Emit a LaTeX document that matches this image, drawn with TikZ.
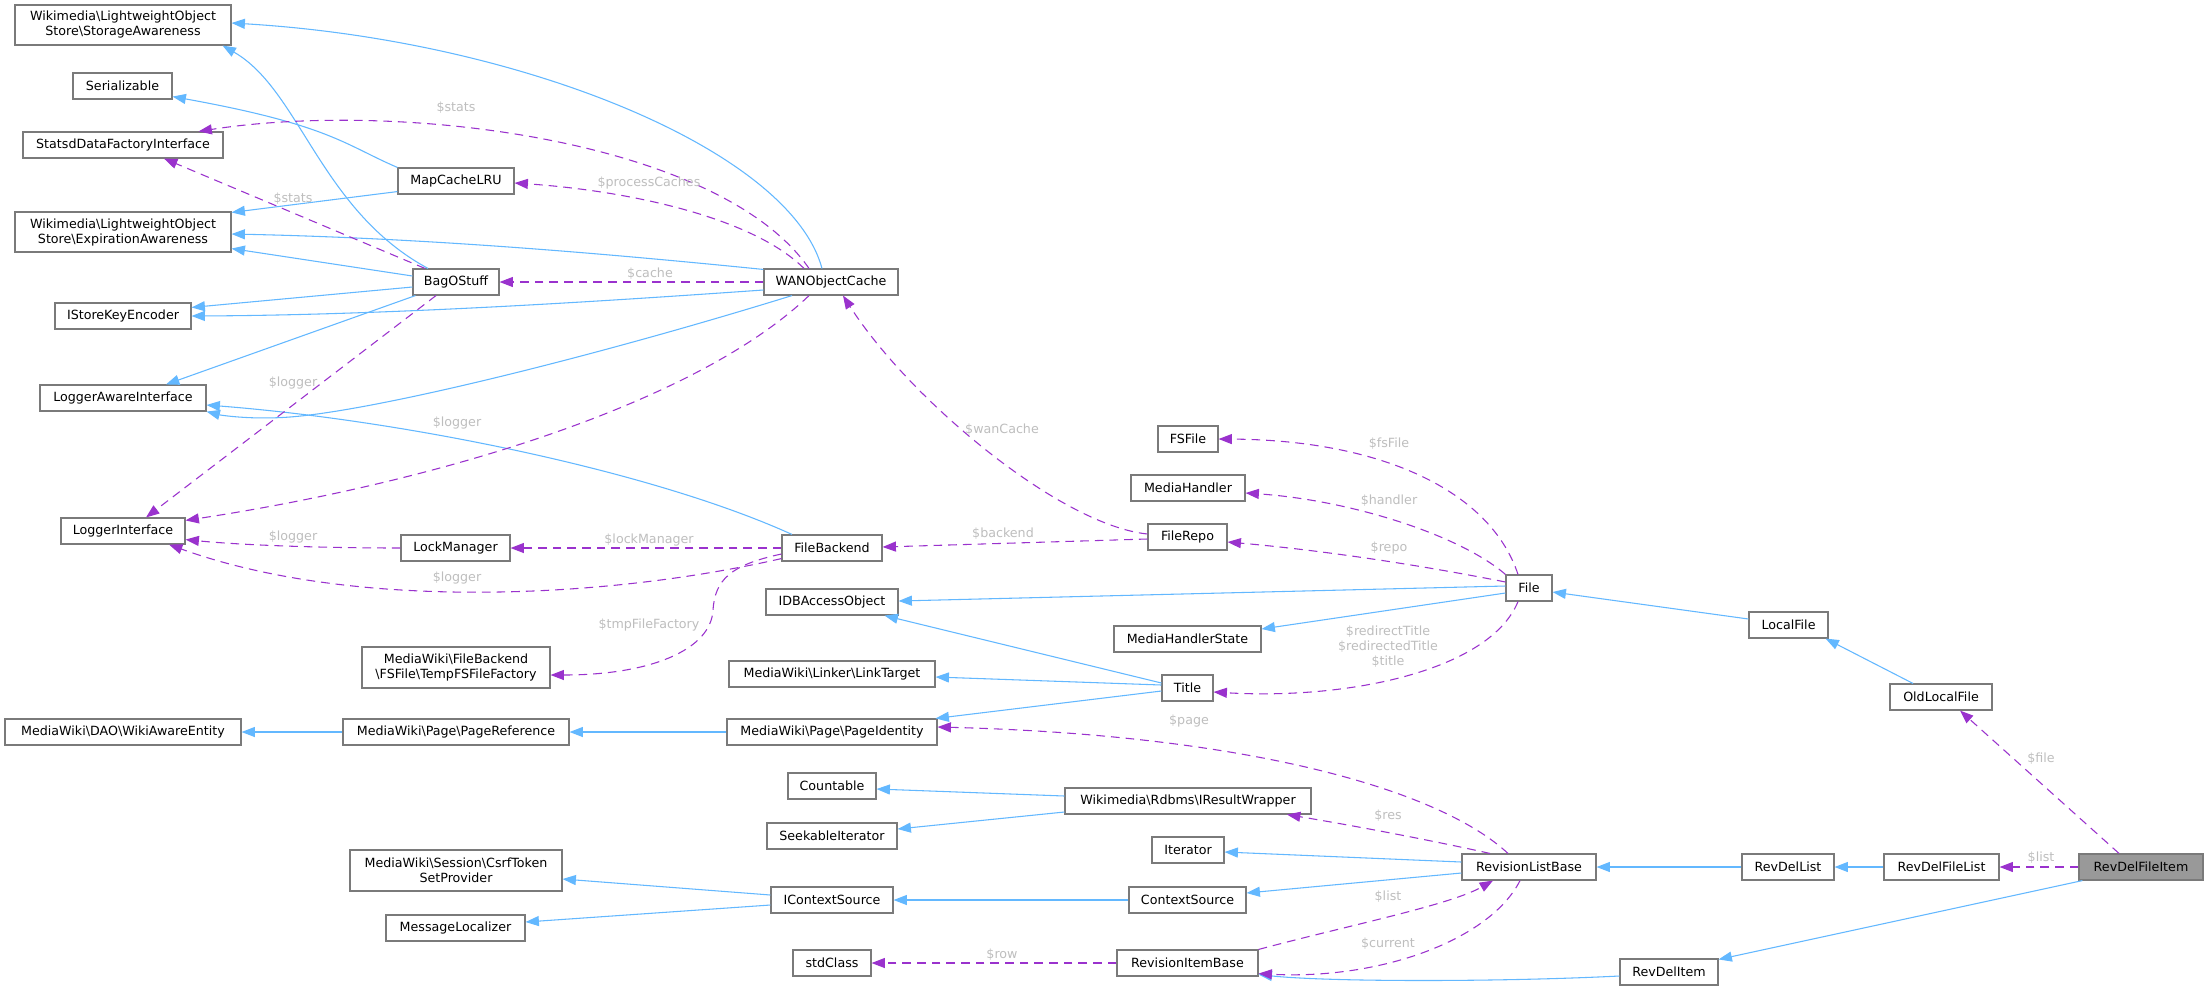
\documentclass[tikz,border=0pt]{standalone}
\usepackage{fontspec}
\setmainfont{DejaVu Sans}
\usetikzlibrary{arrows.meta,calc}
\definecolor{inhblue}{HTML}{63B8FF}
\definecolor{usepurple}{HTML}{9A32CD}
\definecolor{nodegray}{HTML}{7A7A7A}
\definecolor{lblgray}{HTML}{BEBEBE}
\definecolor{hifill}{HTML}{999999}
\tikzset{
  cbox/.style={draw=nodegray, line width=0.85pt, fill=white, inner sep=0pt, align=center,
    font=\fontsize{9.5}{11.25}\selectfont, text=black},
  hibox/.style={fill=hifill},
  inh/.style={draw=inhblue, line width=0.8pt, -{Triangle[length=10pt,width=7.5pt]}},
  use/.style={draw=usepurple, line width=0.8pt, dash pattern=on 6.5pt off 4.5pt,
    -{Triangle[length=10pt,width=7.5pt]}},
  lbl/.style={text=lblgray, inner sep=0pt, align=center,
    font=\fontsize{9.5}{11.25}\selectfont}
}
\newcommand\cls[7][]{\node[cbox,minimum width={(#5-#3)*0.75pt},minimum height={(#6-#4)*0.75pt},#1] (#2) at ({(#3+#5)/2},{(#4+#6)/2}) {#7};}
\begin{document}
\begin{tikzpicture}[x=0.75pt,y=-0.75pt]
\useasboundingbox[fill=white] (0,0) rectangle (2208,990);
% nodes
\cls{SA}{15}{5}{231}{45}{Wikimedia\textbackslash LightweightObject\\Store\textbackslash StorageAwareness}
\cls{Ser}{73}{73}{172}{99}{Serializable}
\cls{Statsd}{23}{132}{223}{158}{StatsdDataFactoryInterface}
\cls{MCL}{398}{168}{514}{194}{MapCacheLRU}
\cls{EA}{15}{212}{231}{252}{Wikimedia\textbackslash LightweightObject\\Store\textbackslash ExpirationAwareness}
\cls{Bag}{413}{269}{499}{295}{BagOStuff}
\cls{WAN}{764}{269}{898}{295}{WANObjectCache}
\cls{ISKE}{55}{303}{191}{329}{IStoreKeyEncoder}
\cls{LAI}{40}{385}{206}{411}{LoggerAwareInterface}
\cls{LI}{61}{518}{185}{544}{LoggerInterface}
\cls{LM}{401}{535}{510}{561}{LockManager}
\cls{FB}{782}{535}{882}{561}{FileBackend}
\cls{IDB}{766}{589}{898}{615}{IDBAccessObject}
\cls{TMP}{362}{647}{550}{688}{MediaWiki\textbackslash FileBackend\\\textbackslash FSFile\textbackslash TempFSFileFactory}
\cls{WAE}{5}{719}{241}{745}{MediaWiki\textbackslash DAO\textbackslash WikiAwareEntity}
\cls{PR}{343}{719}{569}{745}{MediaWiki\textbackslash Page\textbackslash PageReference}
\cls{Count}{788}{773}{876}{799}{Countable}
\cls{Seek}{767}{823}{897}{849}{SeekableIterator}
\cls{Csrf}{350}{850}{562}{891}{MediaWiki\textbackslash Session\textbackslash CsrfToken\\SetProvider}
\cls{ICS}{771}{887}{893}{913}{IContextSource}
\cls{ML}{386}{915}{525}{941}{MessageLocalizer}
\cls{std}{793}{950}{871}{976}{stdClass}
\cls{FSFile}{1158}{426}{1218}{452}{FSFile}
\cls{MH}{1131}{475}{1245}{501}{MediaHandler}
\cls{FR}{1148}{524}{1227}{550}{FileRepo}
\cls{MHS}{1114}{626}{1261}{652}{MediaHandlerState}
\cls{LT}{729}{661}{935}{687}{MediaWiki\textbackslash Linker\textbackslash LinkTarget}
\cls{Title}{1162}{675}{1213}{701}{Title}
\cls{PI}{727}{719}{937}{745}{MediaWiki\textbackslash Page\textbackslash PageIdentity}
\cls{IRW}{1065}{788}{1311}{814}{Wikimedia\textbackslash Rdbms\textbackslash IResultWrapper}
\cls{Iter}{1152}{837}{1224}{863}{Iterator}
\cls{CS}{1129}{887}{1246}{913}{ContextSource}
\cls{RIB}{1117}{950}{1258}{976}{RevisionItemBase}
\cls{File}{1506}{575}{1552}{601}{File}
\cls{LF}{1749}{612}{1828}{638}{LocalFile}
\cls{OLF}{1890}{684}{1992}{710}{OldLocalFile}
\cls{RLB}{1462}{854}{1596}{880}{RevisionListBase}
\cls{RDL}{1742}{854}{1834}{880}{RevDelList}
\cls{RDFL}{1884}{854}{1999}{880}{RevDelFileList}
\cls[hibox]{RDFI}{2079}{854}{2203}{880}{RevDelFileItem}
\cls{RDI}{1620}{959}{1718}{985}{RevDelItem}
% inheritance edges
\draw[inh] ($(Bag.north)+(-28,0)$) .. controls (320,210) and (300,90) .. ($(SA.south east)+(-9,0)$);
\draw[inh] ($(WAN.north)+(-9,0)$) .. controls (790,150) and (520,40) .. ($(SA.east)+(0,-2)$);
\draw[inh] (MCL.north west) .. controls (345,145) and (330,125) .. ($(Ser.south east)+(0,-3)$);
\draw[inh] ($(MCL.south west)+(0,-3)$) -- ($(EA.north east)+(0,1)$);
\draw[inh] ($(WAN.north west)+(0,1)$) .. controls (590,252) and (420,238) .. ($(EA.east)+(0,2)$);
\draw[inh] ($(Bag.west)+(0,-6)$) -- ($(EA.south east)+(0,-4)$);
\draw[inh] ($(Bag.west)+(0,5)$) -- ($(ISKE.north east)+(0,5)$);
\draw[inh] ($(WAN.west)+(0,8)$) .. controls (620,300) and (400,315) .. (ISKE.east);
\draw[inh] ($(Bag.south west)+(3,0)$) -- ($(LAI.north)+(43,0)$);
\draw[inh] ($(WAN.south)+(-39,0)$) .. controls (600,355) and (380,410) .. (290,417) .. controls (250,420) and (220,415) .. (LAI.south east);
\draw[inh] ($(FB.north)+(-40,0)$) .. controls (650,470) and (400,420) .. ($(LAI.east)+(0,7)$);
\draw[inh] ($(Title.west)+(0,-5)$) -- ($(IDB.south east)+(-14,0)$);
\draw[inh] ($(File.west)+(0,-2)$) -- ($(IDB.east)+(0,-1)$);
\draw[inh] ($(File.west)+(0,5)$) -- ($(MHS.east)+(0,-10)$);
\draw[inh] ($(LF.west)+(0,-6)$) -- ($(File.east)+(0,4)$);
\draw[inh] ($(OLF.north)+(-28,0)$) -- ($(LF.south east)+(-3,0)$);
\draw[inh] ($(Title.west)+(0,-3)$) -- ($(LT.east)+(0,3)$);
\draw[inh] ($(Title.west)+(0,3)$) -- ($(PI.north east)+(-2,0)$);
\draw[inh] (PI.west) -- (PR.east);
\draw[inh] (PR.west) -- (WAE.east);
\draw[inh] ($(IRW.west)+(0,-5)$) -- ($(Count.east)+(0,3)$);
\draw[inh] ($(IRW.west)+(0,11)$) -- ($(Seek.east)+(0,-7)$);
\draw[inh] ($(RLB.west)+(0,-5)$) -- ($(Iter.east)+(0,2)$);
\draw[inh] ($(RLB.west)+(0,6)$) -- ($(CS.east)+(0,-7)$);
\draw[inh] (CS.west) -- (ICS.east);
\draw[inh] ($(ICS.west)+(0,-5)$) -- ($(Csrf.east)+(0,8.5)$);
\draw[inh] ($(ICS.west)+(0,5)$) -- ($(ML.east)+(0,-6)$);
\draw[inh] (RDL.west) -- (RLB.east);
\draw[inh] (RDFL.west) -- (RDL.east);
\draw[inh] ($(RDFI.south west)+(4,0)$) -- ($(RDI.north east)+(0,1)$);
\draw[inh] ($(RDI.west)+(0,4)$) .. controls (1500,982) and (1330,982) .. ($(RIB.south east)+(0,-2)$);
% usage edges
\draw[use] ($(WAN.north)+(-22,0)$) .. controls (720,140) and (400,100) .. ($(Statsd.north east)+(-25,0)$);
\node[lbl] (l1) at (456,108) {\$stats};
\draw[use] ($(Bag.north)+(-31,0)$) -- ($(Statsd.south)+(41,0)$);
\node[lbl] (l2) at (293,199) {\$stats};
\draw[use] ($(WAN.north)+(-27,0)$) .. controls (750,215) and (620,190) .. ($(MCL.east)+(0,2)$);
\node[lbl] (l3) at (649,183) {\$processCaches};
\draw[use] (WAN.west) -- (Bag.east);
\node[lbl] (l4) at (650,274) {\$cache};
\draw[use] ($(Bag.south)+(-20,0)$) -- ($(LI.north)+(23,0)$);
\node[lbl] (l5) at (293,383) {\$logger};
\draw[use] ($(WAN.south)+(-22,0)$) .. controls (700,400) and (450,480) .. ($(LI.north east)+(0,3)$);
\node[lbl] (l6) at (457,423) {\$logger};
\draw[use] (LM.west) .. controls (320,548) and (240,545) .. ($(LI.south east)+(0,-5)$);
\node[lbl] (l7) at (293,537) {\$logger};
\draw[use] ($(FB.south west)+(0,-3)$) .. controls (600,600) and (350,610) .. ($(LI.south)+(46,0)$);
\node[lbl] (l8) at (457,578) {\$logger};
\draw[use] (FB.west) -- (LM.east);
\node[lbl] (l9) at (649,540) {\$lockManager};
\draw[use] ($(FB.west)+(0,6)$) .. controls (730,565) and (715,580) .. (713,610) .. controls (711,650) and (650,675) .. ($(TMP.east)+(0,7.5)$);
\node[lbl] (l10) at (649,625) {\$tmpFileFactory};
\draw[use] ($(FR.west)+(0,2)$) -- ($(FB.east)+(0,-1)$);
\node[lbl] (l11) at (1003,534) {\$backend};
\draw[use] ($(FR.west)+(0,-3)$) .. controls (1060,525) and (910,400) .. ($(WAN.south)+(12,0)$);
\node[lbl] (l12) at (1002,430) {\$wanCache};
\draw[use] ($(File.north)+(-11,0)$) .. controls (1490,490) and (1380,440) .. (FSFile.east);
\node[lbl] (l13) at (1389,444) {\$fsFile};
\draw[use] (File.north west) .. controls (1460,535) and (1350,500) .. ($(MH.east)+(0,5)$);
\node[lbl] (l14) at (1389,501) {\$handler};
\draw[use] ($(File.west)+(0,-6)$) .. controls (1420,565) and (1320,550) .. ($(FR.east)+(0,5)$);
\node[lbl] (l15) at (1389,548) {\$repo};
\draw[use] ($(File.south)+(-11,0)$) .. controls (1490,670) and (1350,700) .. ($(Title.east)+(0,4)$);
\node[lbl] (l16) at (1388,647) {\$redirectTitle\\\$redirectedTitle\\\$title};
\draw[use] ($(RLB.north)+(-21,0)$) .. controls (1440,790) and (1250,735) .. ($(PI.east)+(0,-5)$);
\node[lbl] (l17) at (1189,721) {\$page};
\draw[use] ($(RLB.north)+(-39,0)$) .. controls (1430,840) and (1350,825) .. ($(IRW.south)+(99,0)$);
\node[lbl] (l18) at (1388,816) {\$res};
\draw[use] (RIB.north east) .. controls (1350,925) and (1450,905) .. ($(RLB.south)+(-36,0)$);
\node[lbl] (l19) at (1388,897) {\$list};
\draw[use] ($(RLB.south)+(-9,0)$) .. controls (1490,940) and (1380,980) .. ($(RIB.south east)+(0,-3)$);
\node[lbl] (l20) at (1388,944) {\$current};
\draw[use] (RIB.west) -- (std.east);
\node[lbl] (l21) at (1002,955) {\$row};
\draw[use] (RDFI.west) -- (RDFL.east);
\node[lbl] (l22) at (2041,858) {\$list};
\draw[use] ($(RDFI.north)+(-22,0)$) -- ($(OLF.south)+(19,0)$);
\node[lbl] (l23) at (2041,759) {\$file};
\end{tikzpicture}
\end{document}
